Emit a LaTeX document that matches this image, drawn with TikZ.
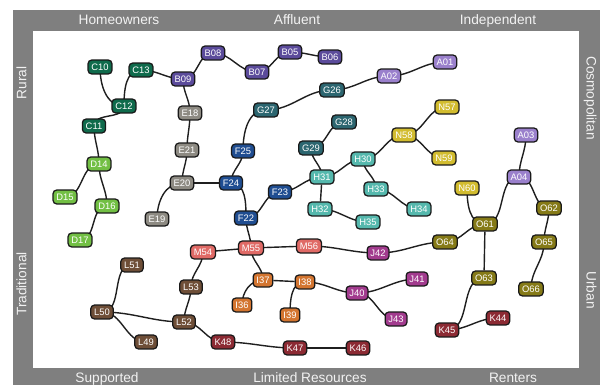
\documentclass[tikz,border=0pt]{standalone}
\usepackage{fontspec}
\setmainfont{Liberation Sans}
\definecolor{bandgray}{HTML}{7F7F7F}
\definecolor{colA}{HTML}{9A80CC}
\definecolor{colB}{HTML}{5B4B9B}
\definecolor{colC}{HTML}{0F6B4C}
\definecolor{colD}{HTML}{72BF44}
\definecolor{colE}{HTML}{8D8A82}
\definecolor{colF}{HTML}{1F4D91}
\definecolor{colG}{HTML}{2C6670}
\definecolor{colH}{HTML}{55B8AD}
\definecolor{colI}{HTML}{D37530}
\definecolor{colJ}{HTML}{A23B8E}
\definecolor{colK}{HTML}{8C2A33}
\definecolor{colL}{HTML}{6E4E37}
\definecolor{colM}{HTML}{E06A66}
\definecolor{colN}{HTML}{D2BC2F}
\definecolor{colO}{HTML}{857A17}
\pgfdeclarelayer{frame}
\pgfdeclarelayer{wires}
\pgfsetlayers{frame,wires,main}
\tikzset{
  seg/.style={rectangle, rounded corners=3.5pt, draw=black!90, line width=1.25pt,
              text=white, font=\fontsize{9.4}{10}\selectfont,
              minimum height=13.8pt, inner xsep=3.3pt, inner ysep=0pt},
  segA/.style={seg, fill=colA},
  segB/.style={seg, fill=colB},
  segC/.style={seg, fill=colC},
  segD/.style={seg, fill=colD},
  segE/.style={seg, fill=colE},
  segF/.style={seg, fill=colF},
  segG/.style={seg, fill=colG},
  segH/.style={seg, fill=colH},
  segI/.style={seg, fill=colI},
  segJ/.style={seg, fill=colJ},
  segK/.style={seg, fill=colK},
  segL/.style={seg, fill=colL},
  segM/.style={seg, fill=colM},
  segN/.style={seg, fill=colN},
  segO/.style={seg, fill=colO},
  band/.style={text=white!95!black, font=\fontsize{13.7}{15}\selectfont,
               text height=1.5ex, text depth=.25ex, inner sep=0pt},
  wire/.style={line width=1.4pt, draw=black!88},
  hs/.style={out=0, in=180},
  vs/.style={out=-90, in=90},
}

\begin{document}
\begin{tikzpicture}[x=1pt, y=1pt]
\useasboundingbox (0,0) rectangle (605,-384);

\begin{pgfonlayer}{frame}
\fill[bandgray] (13,-10) rectangle (600,-389);
\fill[white] (33,-31) rectangle (579,-368);
\end{pgfonlayer}

\node[band] (homeowners) at (119,-21) {Homeowners};
\node[band] (affluent) at (297,-21) {Affluent};
\node[band] (independent) at (498,-21) {Independent};
\node[band] (supported) at (107,-379) {Supported};
\node[band] (limited) at (310,-379) {Limited Resources};
\node[band] (renters) at (513,-379) {Renters};
\node[band, rotate=90] (rural) at (23,-83) {Rural};
\node[band, rotate=90] (traditional) at (23,-284) {Traditional};
\node[band, rotate=-90] (cosmo) at (590,-98) {Cosmopolitan};
\node[band, rotate=-90] (urban) at (590,-290) {Urban};

% groups A--O
\node[segA] (a01) at (445,-62) {A01};
\node[segA] (a02) at (389,-76) {A02};
\node[segA] (a03) at (526,-135) {A03};
\node[segA] (a04) at (519,-177) {A04};
\node[segB] (b05) at (290,-52) {B05};
\node[segB] (b06) at (330,-57) {B06};
\node[segB] (b07) at (257,-72) {B07};
\node[segB] (b08) at (213,-53) {B08};
\node[segB] (b09) at (183,-79) {B09};
\node[segC] (c10) at (100,-67) {C10};
\node[segC] (c11) at (94,-126) {C11};
\node[segC] (c12) at (124,-106) {C12};
\node[segC] (c13) at (141,-70) {C13};
\node[segD] (d14) at (99,-164) {D14};
\node[segD] (d15) at (65,-197) {D15};
\node[segD] (d16) at (107,-206) {D16};
\node[segD] (d17) at (80,-240) {D17};
\node[segE] (e18) at (190,-113) {E18};
\node[segE] (e19) at (157,-219) {E19};
\node[segE] (e20) at (182,-183) {E20};
\node[segE] (e21) at (187,-150) {E21};
\node[segF] (f22) at (246,-218) {F22};
\node[segF] (f23) at (280,-192) {F23};
\node[segF] (f24) at (231,-183) {F24};
\node[segF] (f25) at (243,-151) {F25};
\node[segG] (g26) at (332,-90) {G26};
\node[segG] (g27) at (266,-110) {G27};
\node[segG] (g28) at (344,-122) {G28};
\node[segG] (g29) at (311,-148) {G29};
\node[segH] (h30) at (363,-159) {H30};
\node[segH] (h31) at (322,-177) {H31};
\node[segH] (h32) at (320,-209) {H32};
\node[segH] (h33) at (376,-189) {H33};
\node[segH] (h34) at (419,-209) {H34};
\node[segH] (h35) at (368,-222) {H35};
\node[segI] (i36) at (242,-305) {I36};
\node[segI] (i37) at (263,-280) {I37};
\node[segI] (i38) at (305,-282) {I38};
\node[segI] (i39) at (290,-315) {I39};
\node[segJ] (j40) at (357,-293) {J40};
\node[segJ] (j41) at (417,-279) {J41};
\node[segJ] (j42) at (378,-253) {J42};
\node[segJ] (j43) at (396,-319) {J43};
\node[segK] (k44) at (498,-318) {K44};
\node[segK] (k45) at (447,-330) {K45};
\node[segK] (k46) at (358,-348) {K46};
\node[segK] (k47) at (295,-348) {K47};
\node[segK] (k48) at (223,-342) {K48};
\node[segL] (l49) at (146,-342) {L49};
\node[segL] (l50) at (102,-312) {L50};
\node[segL] (l51) at (132,-265) {L51};
\node[segL] (l52) at (184,-322) {L52};
\node[segL] (l53) at (191,-287) {L53};
\node[segM] (m54) at (203,-252) {M54};
\node[segM] (m55) at (251,-248) {M55};
\node[segM] (m56) at (309,-246) {M56};
\node[segN] (n57) at (447,-107) {N57};
\node[segN] (n58) at (404,-135) {N58};
\node[segN] (n59) at (444,-158) {N59};
\node[segN] (n60) at (467,-188) {N60};
\node[segO] (o61) at (485,-224) {O61};
\node[segO] (o62) at (549,-208) {O62};
\node[segO] (o63) at (484,-278) {O63};
\node[segO] (o64) at (445,-242) {O64};
\node[segO] (o65) at (544,-242) {O65};
\node[segO] (o66) at (531,-289) {O66};

\begin{pgfonlayer}{wires}
% left to right
\draw[wire] (c13.center) to[hs] (b09.center);
\draw[wire] (b09.center) to[hs] (b08.center);
\draw[wire] (b08.center) to[hs] (b07.center);
\draw[wire] (b07.center) to[hs] (b05.center);
\draw[wire] (b05.center) to[hs] (b06.center);
\draw[wire] (g27.center) to[hs] (g26.center);
\draw[wire] (g26.center) to[hs] (a02.center);
\draw[wire] (a02.center) to[hs] (a01.center);
\draw[wire] (d15.center) to[hs] (d14.center);
\draw[wire] (d17.center) to[hs] (d16.center);
\draw[wire] (f22.center) to[hs] (f23.center);
\draw[wire] (f23.center) to[hs] (h31.center);
\draw[wire] (g29.center) to[hs] (g28.center);
\draw[wire] (h31.center) to[hs] (h30.center);
\draw[wire] (h32.center) to[hs] (h35.center);
\draw[wire] (h30.center) to[hs] (n58.center);
\draw[wire] (h33.center) to[hs] (h34.center);
\draw[wire] (n58.center) to[hs] (n57.center);
\draw[wire] (n58.center) to[hs] (n59.center);
\draw[wire] (m56.center) to[hs] (j42.center);
\draw[wire] (j42.center) to[hs] (o64.center);
\draw[wire] (o64.center) to[hs] (o61.center);
\draw[wire] (o61.center) to[hs] (a04.center);
\draw[wire] (a04.center) to[hs] (o62.center);
\draw[wire] (k45.center) to[hs] (o63.center);
\draw[wire] (k45.center) to[hs] (k44.center);
\draw[wire] (l50.center) to[hs] (l51.center);
\draw[wire] (l50.center) to[hs] (l52.center);
\draw[wire] (l50.center) to[hs] (l49.center);
\draw[wire] (l52.center) to[hs] (k48.center);
\draw[wire] (k48.center) to[hs] (k47.center);
\draw[wire] (i38.center) to[hs] (j40.center);
\draw[wire] (j40.center) to[hs] (j41.center);
\draw[wire] (j40.center) to[hs] (j43.center);
% top to bottom
\draw[wire] (c12.center) to[vs] (c11.center);
\draw[wire] (c11.center) to[vs] (d14.center);
\draw[wire] (d14.center) to[vs] (d16.center);
\draw[wire] (b09.center) to[vs] (e18.center);
\draw[wire] (e18.center) to[vs] (e21.center);
\draw[wire] (e21.center) to[vs] (e20.center);
\draw[wire] (f25.center) to[vs] (f24.center);
\draw[wire] (f22.center) to[vs] (m55.center);
\draw[wire] (g29.center) to[vs] (h31.center);
\draw[wire] (h30.center) to[vs] (h33.center);
\draw[wire] (a03.center) to[vs] (a04.center);
\draw[wire] (o62.center) to[vs] (o65.center);
\draw[wire] (o65.center) to[vs] (o66.center);
\draw[wire] (m55.center) to[vs] (i37.center);
\draw[wire] (m54.center) to[vs] (l53.center);
\draw[wire] (l53.center) to[vs] (l52.center);
% bends
\draw[wire] (c10.center) to[out=-90, in=180] (c12.center);
\draw[wire] (c12.center) to[out=90, in=180] (c13.center);
\draw[wire] (e20.center) to[out=180, in=90] (e19.center);
\draw[wire] (f25.center) to[out=90, in=180] (g27.center);
\draw[wire] (f24.center) to[out=0, in=90] (f22.center);
\draw[wire] (n60.center) to[out=-90, in=180] (o61.center);
\draw[wire] (i37.center) to[out=180, in=90] (i36.center);
\draw[wire] (i38.center) to[out=180, in=90] (i39.center);
% straight
\draw[wire] (e20) -- (f24);
\draw[wire] (h31) -- (h32);
\draw[wire] (m54) -- (m55);
\draw[wire] (m55) -- (m56);
\draw[wire] (o61) -- (o63);
\draw[wire] (i37) -- (i38);
\draw[wire] (k47) -- (k46);
\end{pgfonlayer}
\end{tikzpicture}
\end{document}
